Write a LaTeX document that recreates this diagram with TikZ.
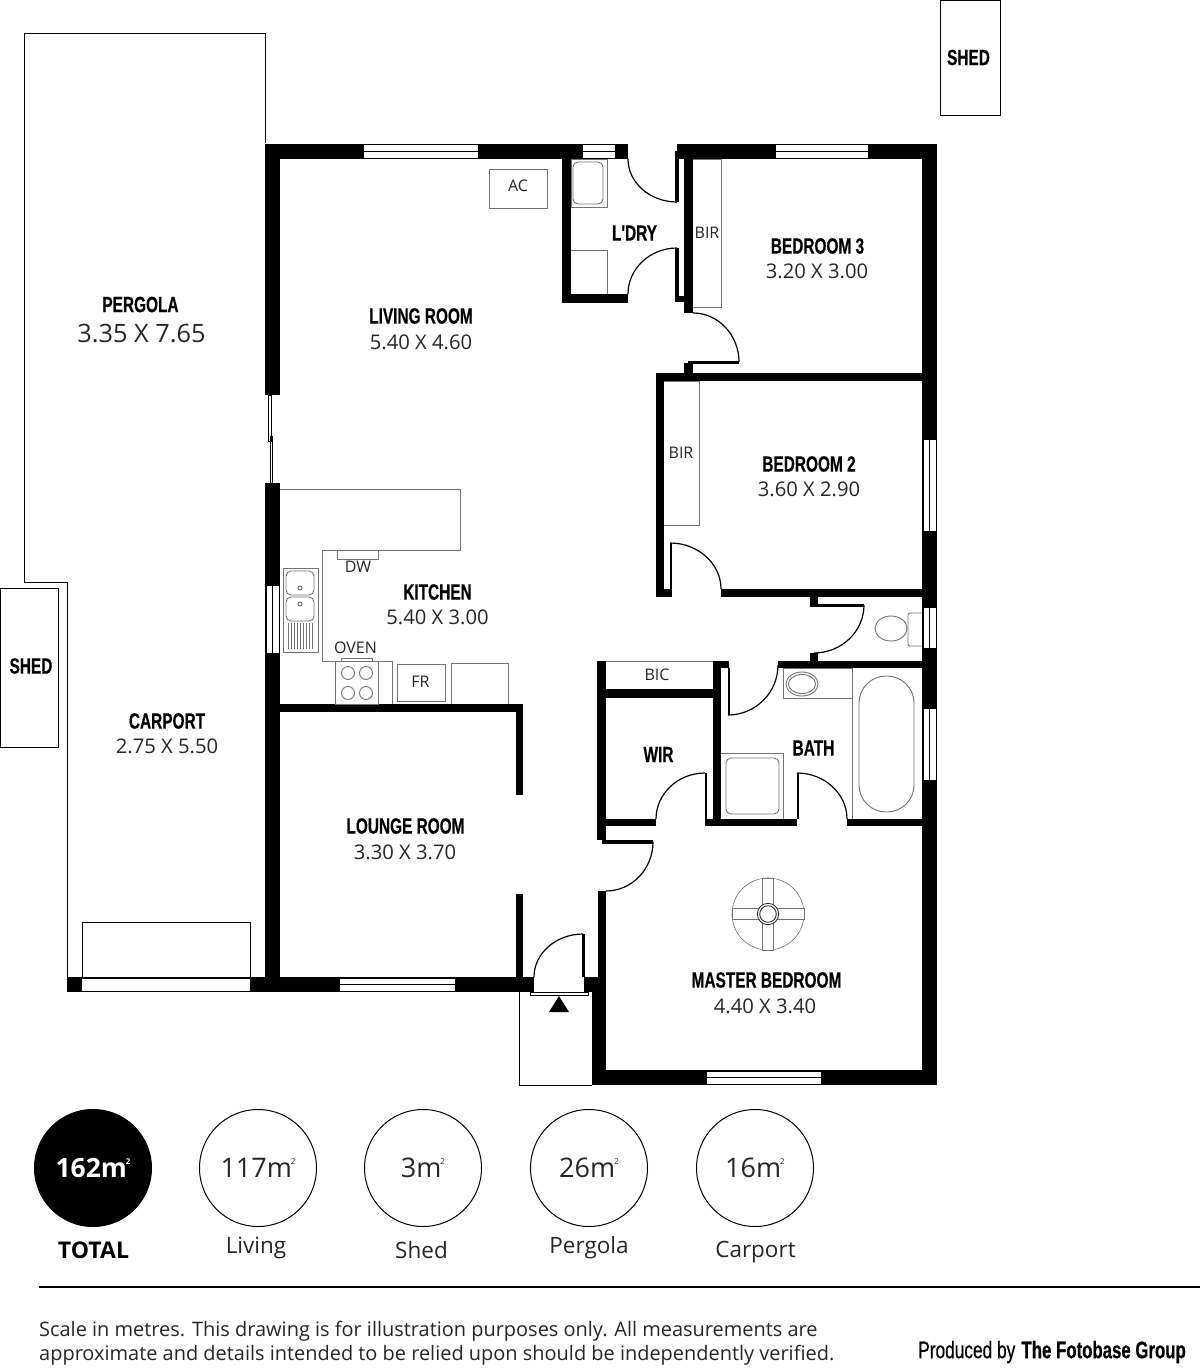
\documentclass[tikz,border=0pt]{standalone}
\usepackage{fontspec}
\usepackage{tikz}
\usetikzlibrary{calc}
\setmainfont{Open Sans}
\newfontfamily\namefont[FakeStretch=0.70,FakeBold=0.4]{Liberation Sans Bold}
\newfontfamily\creditfont[FakeStretch=0.72,FakeBold=0.4]{Liberation Sans}
\newcommand{\sqmark}{m\kern-1pt\raisebox{.48em}{\fontsize{8}{8}\selectfont 2}}
\tikzset{
    wall/.style={fill=black},
    fixture/.style={draw=black!55, line width=0.9pt},
    outline/.style={draw=black, line width=1pt},
    doorarc/.style={draw=black, line width=1.2pt},
    glass/.style={draw=black, line width=0.9pt},
    roomname/.style={inner sep=0pt, font=\namefont\fontsize{22}{22}\selectfont},
    roomsize/.style={inner sep=0pt, font=\fontsize{20.2}{21}\selectfont, text=black!85},
    tag/.style={inner sep=0pt, font=\fontsize{16}{16}\selectfont, text=black!85},
    areaval/.style={circle, draw=black, line width=1pt, minimum size=117pt, inner sep=0pt, font=\fontsize{27}{28}\selectfont, text=black!85},
    arealabel/.style={inner sep=0pt, font=\fontsize{22.5}{23}\selectfont, text=black!85},
}
\begin{document}
\begin{tikzpicture}[x=1pt, y=-1pt]
    \useasboundingbox (0,0) rectangle (1200,1371);

    % Outside structures
    \draw[outline] (265,143) -- (265,33) -- (24,33) -- (24,582) -- (67.5,582) -- (67.5,978);
    \draw[outline] (0.5,588) rectangle (58,747);
    \draw[outline] (940,0.5) rectangle (1000,115);
    \draw[outline] (82,977) -- (82,922) -- (250,922) -- (250,977);
    \draw[outline] (519,992) -- (519,1085) -- (592,1085);

    % Walls
    \foreach \xa/\ya/\xb/\yb in {
        265/143.5/628/159, 265/143.5/280/395, 265/483/280/992,
        562/159/571/303, 562/294/628/303,
        677/143.5/937/159, 675/151/679/202, 675/248/679/302, 675/296/693/302, 684/143.5/693/313,
        922/143.5/937/1085, 684/363/693/381, 656/373/922/381, 656/373/664/597,
        656/589/672/597, 670/543/672/597, 721/589/922/597,
        810/597/818/607, 814/604/864/607, 810/653/818/661, 778/661/937/668,
        597/661/606/840, 713/661/721/826, 713/661/729/668, 728/668/730/715,
        606/689/713/698, 606/819/656/826, 705/819/797/826, 847/819/937/826,
        705/773/707/819, 797/773/799/819,
        598/826/606/840, 602/840/653/844, 598/891/606/1070,
        584/977/598/992, 592/992/606/1085, 592/1070/937/1085,
        67/977/534/992, 582/934/585/977,
        280/704/523/712, 516/704/523/795, 516/894/523/977} {
        \fill[wall] (\xa,\ya) rectangle (\xb,\yb);
    }

    % Windows along horizontal walls
    \foreach \xa/\xb/\ya/\yb in {364/478/144.5/158, 583/615/144.5/158, 776/868/144.5/158,
        707/821/1071/1084, 340/455/978/991, 82/250/978/991} {
        \fill[white] (\xa,\ya) rectangle (\xb,\yb);
        \draw[glass] (\xa,\ya) -- (\xb,\ya);
        \draw[glass] (\xa,\yb) -- (\xb,\yb);
    }
    \foreach \xa/\xb/\ym in {364/478/151.2, 583/615/151.2, 776/868/151.2, 707/821/1077.5, 340/455/984.5}
        \draw[glass, line width=1.2pt] (\xa,\ym) -- (\xb,\ym);
    % Windows along vertical walls
    \foreach \ya/\yb/\xa/\xb in {440/531/923/936, 608/648/923/936, 709/780/923/936, 586/653/266/279} {
        \fill[white] (\xa,\ya) rectangle (\xb,\yb);
        \draw[glass] (\xa,\ya) -- (\xa,\yb);
        \draw[glass] ({(\xa+\xb)/2},\ya) -- ({(\xa+\xb)/2},\yb);
    }
    % Sliding door
    \draw[glass] (268,395) rectangle (271,441);
    \draw[glass] (270,436) rectangle (272.7,483);

    % Door swings
    \foreach \xa/\ya/\xb/\yb/\xc/\yc in {
        628/159/677/202/628/202, 628/294/677/248/628/248, 693/313/739/362/739/313,
        721/589/670/543/721/543, 864/605/814/653/864/653, 778/665/728/715/778/715,
        656/819/705/773/656/773, 847/819/797/773/847/773, 653/842/606/891/653/891,
        534/977/583/934/534/934} {
        \coordinate (doorfrom) at (\xa,\ya);
        \coordinate (doorto) at (\xb,\yb);
        \coordinate (doorcorner) at (\xc,\yc);
        \draw[doorarc] (doorfrom) .. controls ($(doorfrom)!.55!(doorcorner)$) and ($(doorto)!.55!(doorcorner)$) .. (doorto);
    }
    \fill[wall] (688,360.5) rectangle (739,363.5);

    % Entry
    \draw[glass, fill=white] (530,992) rectangle (588,995);
    \fill[black] (559,996) -- (569,1012) -- (549,1012) -- cycle;

    % Laundry and cupboards
    \draw[fixture] (571,159) rectangle (607,207);
    \draw[fixture, rounded corners=5pt] (573,162) rectangle (603,204);
    \draw[fixture] (571,250) -- (607,250) -- (607,294);
    \draw[fixture] (489,169) rectangle (547,208);
    \draw[fixture] (693,159) -- (721,159) -- (721,307) -- (693,307);
    \draw[fixture] (664,381) -- (699,381) -- (699,525) -- (664,525);
    \draw[fixture] (606,661) -- (713,661);

    % Kitchen
    \draw[fixture] (280,489) -- (460,489) -- (460,550) -- (322,550) -- (322,661) -- (392,661) -- (392,704);
    \draw[fixture] (337,550) rectangle (378,559);
    \draw[fixture] (335,661) rectangle (378,704);
    \draw[fixture] (341,658) rectangle (372,661);
    \foreach \cx in {348,366}
        \foreach \cy in {673,693}
            \draw[fixture] (\cx,\cy) circle (6.5);
    \draw[fixture] (397,664.5) rectangle (445,701);
    \draw[fixture] (451,704) -- (451,663) -- (508,663) -- (508,704);
    \draw[fixture] (283,568) rectangle (318,652);
    \draw[fixture, rounded corners=5pt] (286,571) rectangle (314,595);
    \draw[fixture, rounded corners=5pt] (286,597) rectangle (314,621);
    \draw[fixture] (300,588) circle (2);
    \draw[fixture] (300,604) circle (2);
    \foreach \dx in {288,291,...,312}
        \draw[fixture, line width=0.7pt] (\dx,623) -- (\dx,649);

    % Toilet and bathroom
    \draw[fixture, rounded corners=2pt] (922,646) -- (908,646) -- (908,613) -- (922,613);
    \draw[fixture] (891,628.5) ellipse (16 and 12.5);
    \draw[fixture] (783,668) rectangle (852,698);
    \draw[fixture] (802,684) ellipse (16 and 12);
    \draw[fixture] (802,684) ellipse (13.5 and 9.5);
    \draw[fixture] (852,668) -- (852,819);
    \draw[fixture, rounded corners=27pt] (859,676) rectangle (914,812);
    \draw[fixture] (721,753) -- (783,753) -- (783,819);
    \draw[fixture, rounded corners=5pt] (726,758) rectangle (779,814);

    % Ceiling fan
    \draw[fixture, line width=0.6pt] (768,914) circle (36);
    \draw[fixture, fill=white] (762.5,878) rectangle (773.5,950);
    \draw[fixture, fill=white] (732,908.5) rectangle (804,919.5);
    \draw[fixture, draw=black!80, fill=white] (768,914) circle (10.7);
    \draw[fixture, draw=black!80] (768,914) circle (8.3);

    % Room labels
    \node[roomname] (pergolaname) at (140.5,304.5) {PERGOLA};
    \node[roomsize, font=\fontsize{25.3}{26}\selectfont] (pergolasize) at (141.5,333.5) {3.35 X 7.65};
    \node[roomname] (livingname) at (421,316) {LIVING ROOM};
    \node[roomsize] (livingsize) at (421,342) {5.40 X 4.60};
    \node[roomname] (laundryname) at (634.5,233) {L'DRY};
    \node[roomname] (bedthreename) at (817.5,246) {BEDROOM 3};
    \node[roomsize] (bedthreesize) at (817,271.5) {3.20 X 3.00};
    \node[roomname] (bedtwoname) at (809,464) {BEDROOM 2};
    \node[roomsize] (bedtwosize) at (809,489.5) {3.60 X 2.90};
    \node[roomname] (kitchenname) at (437.5,592) {KITCHEN};
    \node[roomsize] (kitchensize) at (437.5,617.5) {5.40 X 3.00};
    \node[roomname] (carportname) at (167,721) {CARPORT};
    \node[roomsize] (carportsize) at (167,746) {2.75 X 5.50};
    \node[roomname] (loungename) at (405.5,826) {LOUNGE ROOM};
    \node[roomsize] (loungesize) at (405,852) {3.30 X 3.70};
    \node[roomname] (wirname) at (658.5,754.5) {WIR};
    \node[roomname] (bathname) at (813.5,748) {BATH};
    \node[roomname] (mastername) at (766.5,980) {MASTER BEDROOM};
    \node[roomsize] (mastersize) at (765,1006) {4.40 X 3.40};
    \node[roomname] (shedleftname) at (31,666) {SHED};
    \node[roomname] (shedtopname) at (968.5,57.5) {SHED};

    % Fixture labels
    \node[tag] (aclabel) at (518,186) {AC};
    \node[tag] (birtop) at (707,233) {BIR};
    \node[tag] (birmid) at (681,453) {BIR};
    \node[tag] (dwlabel) at (358,567) {DW};
    \node[tag] (ovenlabel) at (355.5,648) {OVEN};
    \node[tag] (frlabel) at (420.5,682) {FR};
    \node[tag] (biclabel) at (657,675) {BIC};

    % Areas
    \node[areaval, fill=black, text=white, font=\bfseries\fontsize{26.5}{27}\selectfont] (totalarea) at (93,1168) {162\sqmark};
    \node[areaval] (livingarea) at (258,1168) {117\sqmark};
    \node[areaval] (shedarea) at (423,1168) {3\sqmark};
    \node[areaval] (pergolaarea) at (589,1168) {26\sqmark};
    \node[areaval] (carportarea) at (755,1168) {16\sqmark};
    \node[arealabel, font=\bfseries\fontsize{23}{24}\selectfont, text=black] (totallabel) at (93.5,1250.5) {TOTAL};
    \node[arealabel] (livinglabel) at (256,1247.5) {Living};
    \node[arealabel] (shedlabel) at (421.5,1250.5) {Shed};
    \node[arealabel] (pergolalabel) at (589,1247.5) {Pergola};
    \node[arealabel] (carportlabel) at (755.5,1252.5) {Carport};

    % Footer
    \coordinate (rulestart) at (39,1287);
    \coordinate (ruleend) at (1200,1287);
    \draw[line width=2.4pt] (rulestart) -- (ruleend);
    \node[inner sep=0pt, anchor=west, align=left, font=\fontsize{19.95}{24}\selectfont, text=black!85] (disclaimer) at (39,1343) {Scale in metres. This drawing is for illustration purposes only. All measurements are\\approximate and details intended to be relied upon should be independently verified.};
    \node[inner sep=0pt, anchor=east, font=\fontsize{24}{25}\selectfont] (credit) at (1186,1352) {{\creditfont Produced by} {\namefont The Fotobase Group}};
\end{tikzpicture}
\end{document}
